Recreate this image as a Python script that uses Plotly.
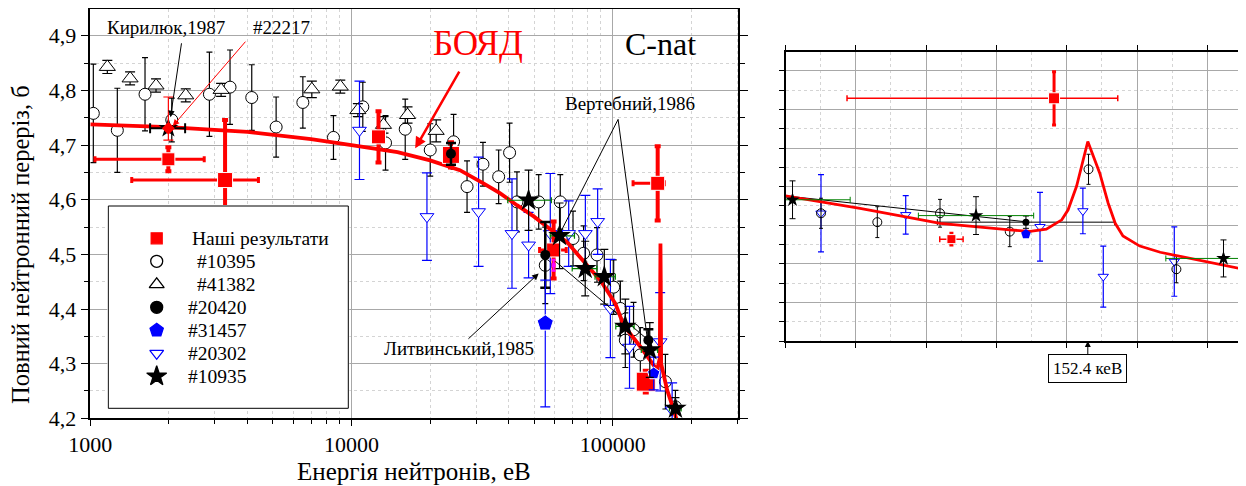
import plotly.graph_objects as go

# ---------------- LEFT PANEL DATA (energy, eV ; total cross-section, b) ----------------
boyd_E = [1000, 2000, 4000, 7000, 10000, 15000, 20000, 26000, 32000, 37000, 43000, 50000,
          57700, 67000, 77500, 89800, 102400, 110200, 127700, 140000, 148000, 151500,
          152000, 152400, 152800, 153300, 161600, 171400, 180000]
boyd_s = [4.738, 4.733, 4.724, 4.711, 4.700, 4.687, 4.672, 4.654, 4.630, 4.612, 4.590, 4.569,
          4.546, 4.522, 4.487, 4.452, 4.410, 4.370, 4.331, 4.305, 4.288, 4.310,
          4.450, 4.520, 4.450, 4.300, 4.252, 4.215, 4.180]

ours_E = [1990, 3281, 12690, 24040, 59400, 133900, 148700]
ours_s = [4.674, 4.636, 4.715, 4.682, 4.508, 4.267, 4.630]
ours_dy = [0.022, 0.110, 0.047, 0.023, 0.052, 0.020, 0.068]
ours_dxm = [948, 1840, 0, 0, 6900, 0, 29000]
ours_dxp = [740, 1122, 0, 0, 7000, 0, 9000]
ours_size = [13, 15, 14, 17, 14, 19, 14]

c10395_E = [1027, 1269, 1620, 2051, 2858, 3428, 4151, 5146, 6513, 8531, 11050, 13500, 16060,
            20020, 24600, 27700, 31870, 36600, 40300, 43000, 52100, 55200, 63000, 70500, 77400,
            87100, 100900, 107000, 111800, 120200, 127600, 159200, 173900]
c10395_s = [4.758, 4.727, 4.793, 4.746, 4.793, 4.806, 4.787, 4.733, 4.778, 4.714, 4.770, 4.704,
            4.729, 4.691, 4.706, 4.624, 4.665, 4.642, 4.686, 4.596, 4.596, 4.480, 4.596, 4.529,
            4.502, 4.499, 4.440, 4.401, 4.343, 4.362, 4.316, 4.267, 4.221]
c10395_dy = [0.090, 0.077, 0.067, 0.040, 0.077, 0.068, 0.060, 0.055, 0.047, 0.040, 0.045, 0.050,
             0.055, 0.048, 0.050, 0.047, 0.040, 0.049, 0.054, 0.055, 0.050, 0.070, 0.050, 0.050,
             0.050, 0.050, 0.050, 0.050, 0.050, 0.050, 0.050, 0.050, 0.030]

t41382_E = [1162, 1420, 1785, 2320, 3168, 7050, 9060, 10580, 13260, 16390, 21100]
t41382_s = [4.843, 4.822, 4.809, 4.791, 4.801, 4.802, 4.807, 4.764, 4.737, 4.755, 4.726]
t41382_dy = [0.012, 0.012, 0.012, 0.012, 0.012, 0.015, 0.012, 0.012, 0.015, 0.015, 0.020]

f20420_E = [24040, 55200, 137000]
f20420_s = [4.684, 4.499, 4.343]
f20420_dy = [0.020, 0.060, 0.020]

p31457_E = [55200, 143600]
p31457_s = [4.374, 4.282]
p31457_dyp = [0.079, 0.030]
p31457_dym = [0.153, 0.030]

d20302_E = [10730, 19450, 30660, 41160, 47650, 57700, 67860, 78600, 87600, 98000, 116000,
            152000, 168900]
d20302_s = [4.727, 4.569, 4.578, 4.538, 4.517, 4.538, 4.538, 4.538, 4.560, 4.401, 4.330,
            4.340, 4.215]
d20302_dy = [0.090, 0.080, 0.100, 0.100, 0.060, 0.110, 0.060, 0.070, 0.060, 0.090, 0.075,
             0.090, 0.050]

s10935_E = [47650, 62600, 78500, 92900, 111800, 138700, 173900]
s10935_s = [4.599, 4.534, 4.474, 4.459, 4.368, 4.325, 4.218]
s10935_dy = [0.055, 0.060, 0.050, 0.050, 0.050, 0.050, 0.020]
s10935_dxm = [8000, 4900, 8500, 7300, 9000, 10000, 9000]
s10935_dxp = [10600, 8800, 8500, 9500, 9000, 10000, 9000]

kir_E = [1990]
kir_s = [4.731]
kir_dxm = [296]
kir_dxp = [317]
x22217_E = [1990]
x22217_s = [4.731]
x22217_dyp = [0.057]
x22217_dym = [0.022]
magenta_E = [59400]
magenta_s = [4.480]

vert_line_E = [62300, 104900, 137000]
vert_line_s = [4.535, 4.747, 4.331]
lit_line_E = [59400, 137000]
lit_line_s = [4.490, 4.343]

# ---------------- RIGHT PANEL DATA (zoom near 152.4 keV, energy keV ; relative units) ----
r_curve_u = [148.10, 149.16, 149.81, 150.30, 151.29, 151.58, 151.81, 152.03, 152.12, 152.24,
             152.40, 152.57, 152.69, 152.79, 152.90, 153.14, 153.43, 153.90, 154.64]
r_curve_v = [3.76, 3.44, 3.22, 3.05, 2.88, 2.84, 2.90, 3.14, 3.40, 4.01,
             5.17, 4.35, 3.57, 3.05, 2.72, 2.46, 2.30, 2.12, 1.85]
r_ours_u = [151.92, 150.46]
r_ours_v = [6.29, 2.64]
r_ours_dy = [0.69, 0.15]
r_ours_dxm = [2.945, 0.166]
r_ours_dxp = [0.906, 0.166]
r_star_u = [148.20, 150.81, 154.33]
r_star_v = [3.66, 3.25, 2.14]
r_star_dy = [0.49, 0.49, 0.48]
r_star_dx = [0.82, 0.82, 0.82]
r_circ_u = [148.605, 149.406, 150.298, 151.29, 152.41, 153.66]
r_circ_v = [3.31, 3.08, 3.31, 2.835, 4.45, 1.86]
r_circ_dy = [0.39, 0.40, 0.36, 0.39, 0.39, 0.35]
r_tri_u = [148.605, 149.81, 151.72, 152.33, 152.62, 153.63]
r_tri_v = [3.31, 3.27, 2.96, 3.37, 1.67, 2.06]
r_tri_dy = [1.00, 0.50, 0.89, 0.59, 0.79, 0.90]
r_fill_u = [151.52]
r_fill_v = [3.08]
r_fill_dy = [0.16]
r_fill_dx = [1.26]
r_pent_u = [151.52]
r_pent_v = [2.77]
r_line_u = [148.10, 151.52]
r_line_v = [3.76, 3.09]

# ---------------- LEGEND (entries, drawn in their own small axes) ----------------
leg_names = ["Наші результати", " #10395", " #41382", "#20420", "#31457", "#20302", "#10935"]
leg_rows = [0, 1, 2, 3, 4, 5, 6]
leg_symbols = ["square", "circle-open", "triangle-up-open", "circle", "pentagon",
               "triangle-down-open", "star"]
leg_colors = ["#ff0000", "black", "black", "black", "#0000ff", "#0000ff", "black"]
leg_sizes = [11, 12, 13, 12, 14, 12, 15]

# ---------------- TICKS ----------------
x_tickvals = [1000, 10000, 100000]
x_ticktext = ["1000", "10000", "100000"]
y_tickvals = [4.2, 4.3, 4.4, 4.5, 4.6, 4.7, 4.8, 4.9]
y_ticktext = ["4,2", "4,3", "4,4", "4,5", "4,6", "4,7", "4,8", "4,9"]
x_minor = [m * 10 ** k for k in (3, 4) for m in range(2, 10)] + [200000, 300000]

OFF = 8                      # default body margin of the html page
W, H = 1246 - OFF, 486 - OFF
FONT = "Liberation Serif"
RED = "#ff0000"
BLUE = "#0000ff"
GREEN = "#008000"


def px(x):
    return (x - OFF) / W


def py(y):
    return 1 - (y - OFF) / H


fig = go.Figure()

# ---- left panel traces ----
fig.add_trace(go.Scatter(
    x=c10395_E, y=c10395_s, mode="markers",
    marker=dict(symbol="circle", size=12, color="white", opacity=1,
                line=dict(color="black", width=1)),
    error_y=dict(type="data", array=c10395_dy, color="black", thickness=1.2, width=3)))
fig.add_trace(go.Scatter(
    x=t41382_E, y=t41382_s, mode="markers",
    marker=dict(symbol="triangle-up", size=14, color="white", opacity=1,
                line=dict(color="black", width=1)),
    error_y=dict(type="data", array=t41382_dy, color="black", thickness=1.2, width=5)))
fig.add_trace(go.Scatter(
    x=d20302_E, y=d20302_s, mode="markers",
    marker=dict(symbol="triangle-down", size=12, color="white", opacity=1,
                line=dict(color=BLUE, width=1)),
    error_y=dict(type="data", array=d20302_dy, color=BLUE, thickness=1.2, width=5)))
fig.add_trace(go.Scatter(
    x=vert_line_E, y=vert_line_s, mode="lines", line=dict(color="black", width=1)))
fig.add_trace(go.Scatter(
    x=lit_line_E, y=lit_line_s, mode="lines", line=dict(color="black", width=1)))
fig.add_trace(go.Scatter(
    x=boyd_E, y=boyd_s, mode="lines", line=dict(color=RED, width=3.8)))
fig.add_trace(go.Scatter(
    x=ours_E, y=ours_s, mode="markers",
    marker=dict(symbol="square", size=ours_size, color=RED, opacity=1),
    error_y=dict(type="data", array=ours_dy, color=RED, thickness=4, width=3),
    error_x=dict(type="data", symmetric=False, array=ours_dxp, arrayminus=ours_dxm,
                 color=RED, thickness=3, width=3)))
fig.add_trace(go.Scatter(
    x=magenta_E, y=magenta_s, mode="markers",
    marker=dict(symbol="square", size=4, color="#ff00ff", opacity=1),
    error_y=dict(type="data", array=[0.01], color="#ff00ff", thickness=2, width=2)))
fig.add_trace(go.Scatter(
    x=f20420_E, y=f20420_s, mode="markers",
    marker=dict(symbol="circle", size=10, color="black", opacity=1),
    error_y=dict(type="data", array=f20420_dy, color="black", thickness=2.5, width=5)))
fig.add_trace(go.Scatter(
    x=p31457_E, y=p31457_s, mode="markers",
    marker=dict(symbol="pentagon", size=[17, 13], color=BLUE, opacity=1),
    error_y=dict(type="data", symmetric=False, array=p31457_dyp, arrayminus=p31457_dym,
                 color=BLUE, thickness=1.2, width=5)))
fig.add_trace(go.Scatter(
    x=s10935_E, y=s10935_s, mode="markers",
    marker=dict(symbol="star", size=17, color="black", opacity=1),
    error_y=dict(type="data", array=s10935_dy, color="black", thickness=1.2, width=4),
    error_x=dict(type="data", symmetric=False, array=s10935_dxp, arrayminus=s10935_dxm,
                 color=GREEN, thickness=1.2, width=3)))
fig.add_trace(go.Scatter(
    x=kir_E, y=kir_s, mode="markers",
    marker=dict(symbol="star", size=15, color="black", opacity=1),
    error_x=dict(type="data", symmetric=False, array=kir_dxp, arrayminus=kir_dxm,
                 color="black", thickness=2, width=5)))
fig.add_trace(go.Scatter(
    x=x22217_E, y=x22217_s, mode="markers",
    marker=dict(symbol="diamond", size=10, color=RED, opacity=1),
    error_y=dict(type="data", symmetric=False, array=x22217_dyp, arrayminus=x22217_dym,
                 color=RED, thickness=1.2, width=5)))

# ---- right panel traces ----
R = dict(xaxis="x2", yaxis="y2")
fig.add_trace(go.Scatter(x=r_line_u, y=r_line_v, mode="lines",
                         line=dict(color="black", width=1), **R))
fig.add_trace(go.Scatter(
    x=r_fill_u, y=r_fill_v, mode="markers",
    marker=dict(symbol="circle", size=7, color="black", opacity=1),
    error_y=dict(type="data", array=r_fill_dy, color="black", thickness=1, width=3),
    error_x=dict(type="data", array=r_fill_dx, color="black", thickness=1, width=3), **R))
fig.add_trace(go.Scatter(
    x=r_tri_u, y=r_tri_v, mode="markers",
    marker=dict(symbol="triangle-down", size=9, color="white", opacity=1,
                line=dict(color=BLUE, width=1)),
    error_y=dict(type="data", array=r_tri_dy, color=BLUE, thickness=1.2, width=3), **R))
fig.add_trace(go.Scatter(
    x=r_circ_u, y=r_circ_v, mode="markers",
    marker=dict(symbol="circle", size=9, color="rgba(255,255,255,0)", opacity=1,
                line=dict(color="black", width=1)),
    error_y=dict(type="data", array=r_circ_dy, color="black", thickness=1, width=2), **R))
fig.add_trace(go.Scatter(x=r_curve_u, y=r_curve_v, mode="lines",
                         line=dict(color=RED, width=2.8), **R))
fig.add_trace(go.Scatter(
    x=r_pent_u, y=r_pent_v, mode="markers",
    marker=dict(symbol="pentagon", size=10, color=BLUE, opacity=1), **R))
fig.add_trace(go.Scatter(
    x=r_star_u, y=r_star_v, mode="markers",
    marker=dict(symbol="star", size=11, color="black", opacity=1),
    error_y=dict(type="data", array=r_star_dy, color="black", thickness=1, width=3),
    error_x=dict(type="data", array=r_star_dx, color=GREEN, thickness=1, width=3), **R))
fig.add_trace(go.Scatter(
    x=r_ours_u, y=r_ours_v, mode="markers",
    marker=dict(symbol="square", size=[11, 9], color=RED, opacity=1),
    error_y=dict(type="data", array=r_ours_dy, color=RED, thickness=3, width=2),
    error_x=dict(type="data", symmetric=False, array=r_ours_dxp, arrayminus=r_ours_dxm,
                 color=RED, thickness=1.5, width=3), **R))

# ---- legend box (own axes, drawn above the left panel) ----
LB_L, LB_R, LB_T, LB_B = 108.3, 348.3, 206.0, 408.3      # box edges, px
ROW0, ROWSTEP = 238.3, 23.0                              # first row centre, row spacing, px
y3_top = -(ROW0 - LB_T) / ROWSTEP
y3_bot = 6 + (LB_B - (ROW0 + 6 * ROWSTEP)) / ROWSTEP
pad = 1.0 / ROWSTEP
L3 = dict(xaxis="x3", yaxis="y3")
fig.add_trace(go.Scatter(
    x=[0, LB_R - LB_L, LB_R - LB_L, 0, 0], y=[y3_top, y3_top, y3_bot, y3_bot, y3_top],
    mode="lines", fill="toself", fillcolor="white", line=dict(color="black", width=1),
    hoverinfo="skip", **L3))
fig.add_trace(go.Scatter(
    x=[156.7 - LB_L] * len(leg_rows), y=leg_rows, mode="markers",
    marker=dict(symbol=leg_symbols, size=leg_sizes, color=leg_colors, opacity=1,
                line=dict(color=leg_colors, width=1.3)),
    hoverinfo="skip", **L3))

axis_common = dict(showline=True, linecolor="black", linewidth=1.5, mirror="ticks",
                   ticks="outside", tickcolor="black", gridcolor="#a8a8a8", gridwidth=1,
                   zeroline=False, automargin=False)
minor_common = dict(showgrid=True, gridcolor="#d4d4d4", griddash="dot", gridwidth=1,
                    tickcolor="black")
hidden = dict(visible=False, showgrid=False, zeroline=False, fixedrange=True)

fig.update_layout(
    width=W, height=H, paper_bgcolor="white", plot_bgcolor="white",
    margin=dict(l=0, r=0, t=0, b=0), showlegend=False,
    font=dict(family=FONT, color="black", size=18),
    xaxis=dict(type="log", domain=[px(90.3), px(738.3)], range=[3, 5.481],
               tickvals=x_tickvals, ticktext=x_ticktext, ticklen=6,
               tickfont=dict(size=22),
               minor=dict(tickvals=x_minor, ticks="outside", ticklen=4, **minor_common),
               **axis_common),
    yaxis=dict(domain=[py(418.3), py(9)], range=[4.2, 4.949],
               tickvals=y_tickvals, ticktext=y_ticktext, ticklen=8,
               tickfont=dict(size=22),
               minor=dict(tick0=4.2, dtick=0.05, ticks="outside", ticklen=5, **minor_common),
               **axis_common),
    xaxis2=dict(domain=[px(785.5), px(1245)], range=[148.1, 154.636], anchor="y2",
                tick0=148.1, dtick=1, ticklen=5, showticklabels=False,
                minor=dict(tick0=148.1, dtick=0.5, ticks="", **minor_common),
                **axis_common),
    yaxis2=dict(domain=[py(341), py(52)], range=[0, 7.49], anchor="x2",
                tick0=0, dtick=1, ticklen=5, showticklabels=False,
                minor=dict(tick0=0, dtick=0.5, ticks="outside", ticklen=5, **minor_common),
                **axis_common),
    xaxis3=dict(domain=[px(LB_L - 1), px(LB_R + 1)], range=[-1, LB_R - LB_L + 1],
                anchor="y3", **hidden),
    yaxis3=dict(domain=[py(LB_B + 1), py(LB_T - 1)], range=[y3_bot + pad, y3_top - pad],
                anchor="x3", **hidden),
    shapes=[
        dict(type="rect", xref="paper", yref="paper", x0=px(605), x1=px(737),
             y0=py(88), y1=py(10), fillcolor="white", line=dict(width=0), layer="between"),
    ],
)

ann = []
C = dict(xanchor="center", yanchor="middle", showarrow=False)
ann.append(dict(xref="paper", yref="paper", x=px(20), y=py(245), textangle=-90,
                text="Повний нейтронний переріз, б", font=dict(size=24.5), **C))
ann.append(dict(xref="paper", yref="paper", x=px(414), y=py(471.5),
                text="Енергія нейтронів, еВ", font=dict(size=25), **C))
ann.append(dict(xref="paper", yref="paper", x=px(166), y=py(27), text="Кирилюк,1987",
                font=dict(size=19), **C))
ann.append(dict(xref="paper", yref="paper", x=px(281), y=py(27), text="#22217",
                font=dict(size=19), **C))
ann.append(dict(xref="paper", yref="paper", x=px(477.5), y=py(44), text="БОЯД",
                font=dict(size=35, color=RED), **C))
ann.append(dict(xref="paper", yref="paper", x=px(660), y=py(44), text="C-nat",
                font=dict(size=32), **C))
ann.append(dict(xref="paper", yref="paper", x=px(629.5), y=py(103), text="Вертебний,1986",
                font=dict(size=19), **C))
ann.append(dict(xref="paper", yref="paper", x=px(459), y=py(348), text="Литвинський,1985",
                font=dict(size=19), **C))
# legend labels
leg_text_x = [190, 190, 190, 186, 186, 186, 186]
for name, r, tx in zip(leg_names, leg_rows, leg_text_x):
    ann.append(dict(xref="paper", yref="y3", x=px(tx), y=r, text=name, showarrow=False,
                    xanchor="left", yanchor="middle", font=dict(size=19.5)))
# arrows (log axis: x in log10)
for x, y, ax, ay, col, w in [(3.307, 4.751, 3.350, 4.889, "black", 1),
                             (3.316, 4.735, 3.599, 4.892, RED, 1),
                             (4.244, 4.694, 4.416, 4.837, RED, 2.5),
                             (4.7165, 4.465, 4.442, 4.343, "black", 1)]:
    ann.append(dict(xref="x", yref="y", axref="x", ayref="y", x=x, y=y, ax=ax, ay=ay,
                    text="", showarrow=True, arrowhead=2, arrowsize=1.3 if w < 2 else 0.9,
                    arrowwidth=w, arrowcolor=col))
ann.append(dict(xref="x2", yref="paper", x=152.4, y=py(341), text="152.4 кеВ",
                showarrow=True, ax=0, ay=27, arrowhead=2, arrowsize=1.2, arrowwidth=1,
                arrowcolor="black", bordercolor="black", borderwidth=1, borderpad=4,
                bgcolor="white", font=dict(size=17)))
fig.update_layout(annotations=ann)

fig.write_html("out.html")
